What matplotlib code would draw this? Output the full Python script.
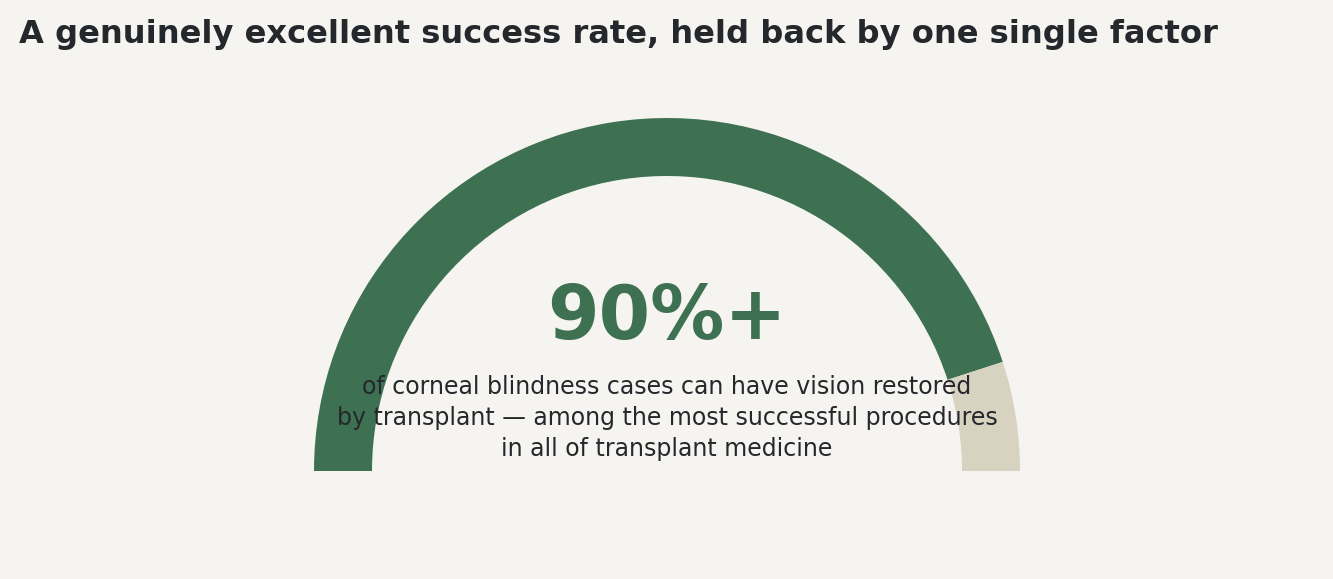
import matplotlib
matplotlib.use("Agg")
import matplotlib.pyplot as plt

# gauge data
labels = ["Success", "Remaining"]
values = [90, 10]
big_number = "90%+"
caption = ("of corneal blindness cases can have vision restored\n"
           "by transplant \u2014 among the most successful procedures\n"
           "in all of transplant medicine")
title = "A genuinely excellent success rate, held back by one single factor"


def main() -> None:
    bg = "#f5f4f0"
    green = "#3e7152"
    beige = "#d8d2c1"
    ink = "#24272b"

    W, H = 1333, 579
    fig = plt.figure(figsize=(W / 100, H / 100), dpi=100, facecolor=bg)
    ax = fig.add_axes([0, 0, 1, 1])
    ax.set_facecolor(bg)

    # half gauge: add an invisible half to fill the lower semicircle
    total = sum(values)
    ax.pie(values + [total], colors=[green, beige, "none"],
           startangle=180, counterclock=False,
           center=(667, H - 471), radius=353,
           wedgeprops=dict(width=58, linewidth=0), frame=True)
    ax.set_xlim(0, W)
    ax.set_ylim(0, H)
    ax.set_aspect("equal")
    ax.axis("off")

    ax.text(19, H - 35, title, ha="left", va="center",
            fontsize=23.1, fontweight="bold", color=ink)
    ax.text(667, H - 319, big_number, ha="center", va="center",
            fontsize=53.4, fontweight="bold", color=green)
    ax.text(667, H - 418, caption, ha="center", va="center",
            fontsize=17, color=ink, linespacing=1.38)

    fig.savefig("out.png", dpi=100, facecolor=bg)


if __name__ == "__main__":
    main()
